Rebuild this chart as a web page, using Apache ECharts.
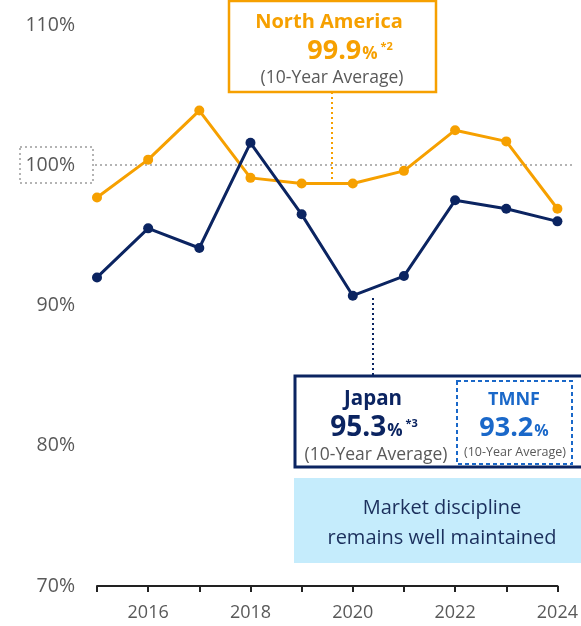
<!DOCTYPE html>
<html>
<head>
<meta charset="utf-8">
<script src="https://cdn.jsdelivr.net/npm/echarts@6/dist/echarts.min.js"></script>
<style>
  html, body { margin: 0; padding: 0; background: #fff; }
  #chart { width: 581px; height: 626px; }
</style>
</head>
<body>
<div id="chart"></div>
<script>
// 数据
const years = ['2015', '2016', '2017', '2018', '2019', '2020', '2021', '2022', '2023', '2024']
const northAmerica = [97.7, 100.4, 103.9, 99.1, 98.7, 98.7, 99.6, 102.5, 101.7, 96.9]
const japan = [92.0, 95.5, 94.1, 101.6, 96.5, 90.7, 92.1, 97.5, 96.9, 96.0]
const yTicks = [70, 80, 90, 100, 110]

const ORANGE = '#f6a000'
const NAVY = '#0b2461'
const BLUE = '#1a68c9'
const GRAY = '#595959'
const FONT = '"Open Sans", "Noto Sans", sans-serif'

const chart = echarts.init(document.getElementById('chart'))

const option = {
  animation: false,
  textStyle: {fontFamily: FONT},
  grid: {left: 97, right: 21, top: 25, bottom: 40, containLabel: false},
  xAxis: {
    type: 'category',
    data: years,
    boundaryGap: false,
    axisLine: {lineStyle: {color: '#222', width: 2}},
    axisTick: {show: true, length: 6, lineStyle: {color: '#222', width: 2}, interval: 0},
    axisLabel: {
      color: GRAY, fontSize: 18, margin: 18,
      interval: (i) => i % 2 === 1
    },
    splitLine: {show: false}
  },
  yAxis: {
    type: 'value',
    min: yTicks[0],
    max: yTicks[yTicks.length - 1],
    interval: 10,
    axisLine: {show: false},
    axisTick: {show: false},
    splitLine: {show: false},
    axisLabel: {color: GRAY, fontSize: 19.5, margin: 22, formatter: '{value}%'}
  },
  series: [
    {
      name: 'North America',
      type: 'line',
      data: northAmerica,
      symbol: 'circle',
      symbolSize: 10,
      lineStyle: {color: ORANGE, width: 3},
      itemStyle: {color: ORANGE},
      z: 3
    },
    {
      name: 'Japan',
      type: 'line',
      data: japan,
      symbol: 'circle',
      symbolSize: 10,
      lineStyle: {color: NAVY, width: 3},
      itemStyle: {color: NAVY},
      z: 4
    }
  ],
  graphic: [
    // 100% 参考线
    {type: 'line', shape: {x1: 95, y1: 165, x2: 572, y2: 165}, z: 1,
      style: {stroke: '#b4b4b4', lineWidth: 2, lineDash: [2, 3]}},
    {type: 'rect', shape: {x: 20, y: 147, width: 73, height: 36},
      style: {fill: 'none', stroke: '#b4b4b4', lineWidth: 2, lineDash: [2, 3]}},

    // North America 标注
    {type: 'line', shape: {x1: 332, y1: 92, x2: 332, y2: 180},
      style: {stroke: ORANGE, lineWidth: 2, lineDash: [2, 3]}},
    {type: 'rect', shape: {x: 229, y: 1, width: 207, height: 91}, z: 10,
      style: {fill: '#fff', stroke: ORANGE, lineWidth: 2.5}},
    {type: 'text', x: 329, y: 22, z: 11,
      style: {text: 'North America', fill: ORANGE, font: `bold 20px ${FONT}`, align: 'center', verticalAlign: 'middle'}},
    {type: 'text', x: 350, y: 51, z: 11,
      style: {
        text: '{v|99.9}{p|%}{s| *2}',
        align: 'center', verticalAlign: 'middle',
        rich: {
          v: {fill: ORANGE, font: `bold 27px ${FONT}`},
          p: {fill: ORANGE, font: `bold 17px ${FONT}`, padding: [7, 0, 0, 1]},
          s: {fill: ORANGE, font: `bold 11px ${FONT}`, padding: [0, 0, 8, 0]}
        }
      }},
    {type: 'text', x: 332, y: 78, z: 11,
      style: {text: '(10-Year Average)', fill: GRAY, font: `17.5px ${FONT}`, align: 'center', verticalAlign: 'middle'}},

    // Japan 标注
    {type: 'line', shape: {x1: 373, y1: 298, x2: 373, y2: 376},
      style: {stroke: NAVY, lineWidth: 2, lineDash: [2, 3]}},
    {type: 'rect', shape: {x: 295, y: 376, width: 300, height: 91}, z: 10,
      style: {fill: '#fff', stroke: NAVY, lineWidth: 3}},
    {type: 'text', x: 373, y: 399, z: 11,
      style: {text: 'Japan', fill: NAVY, font: `bold 20.5px ${FONT}`, align: 'center', verticalAlign: 'middle'}},
    {type: 'text', x: 374, y: 428, z: 11,
      style: {
        text: '{v|95.3}{p|%}{s| *3}',
        align: 'center', verticalAlign: 'middle',
        rich: {
          v: {fill: NAVY, font: `bold 28px ${FONT}`},
          p: {fill: NAVY, font: `bold 17px ${FONT}`, padding: [7, 0, 0, 1]},
          s: {fill: NAVY, font: `bold 11px ${FONT}`, padding: [0, 0, 8, 0]}
        }
      }},
    {type: 'text', x: 376, y: 455, z: 11,
      style: {text: '(10-Year Average)', fill: GRAY, font: `17.5px ${FONT}`, align: 'center', verticalAlign: 'middle'}},

    // TMNF
    {type: 'rect', shape: {x: 457, y: 381, width: 115, height: 83}, z: 11,
      style: {fill: 'none', stroke: BLUE, lineWidth: 2, lineDash: [4, 3]}},
    {type: 'text', x: 514, y: 400, z: 12,
      style: {text: 'TMNF', fill: BLUE, font: `bold 18px ${FONT}`, align: 'center', verticalAlign: 'middle'}},
    {type: 'text', x: 514, y: 428, z: 12,
      style: {
        text: '{v|93.2}{p|%}',
        align: 'center', verticalAlign: 'middle',
        rich: {
          v: {fill: BLUE, font: `bold 27px ${FONT}`},
          p: {fill: BLUE, font: `bold 16px ${FONT}`, padding: [7, 0, 0, 1]}
        }
      }},
    {type: 'text', x: 515, y: 452, z: 12,
      style: {text: '(10-Year Average)', fill: GRAY, font: `12.5px ${FONT}`, align: 'center', verticalAlign: 'middle'}},

    // 说明框
    {type: 'rect', shape: {x: 294, y: 478, width: 290, height: 85}, z: 10,
      style: {fill: '#c5ecfc'}},
    {type: 'text', x: 442, y: 523, z: 11,
      style: {text: 'Market discipline\nremains well maintained', fill: '#1b2f5c', font: `20px ${FONT}`,
        lineHeight: 30, align: 'center', verticalAlign: 'middle'}}
  ]
}

option && chart.setOption(option)
</script>
</body>
</html>
